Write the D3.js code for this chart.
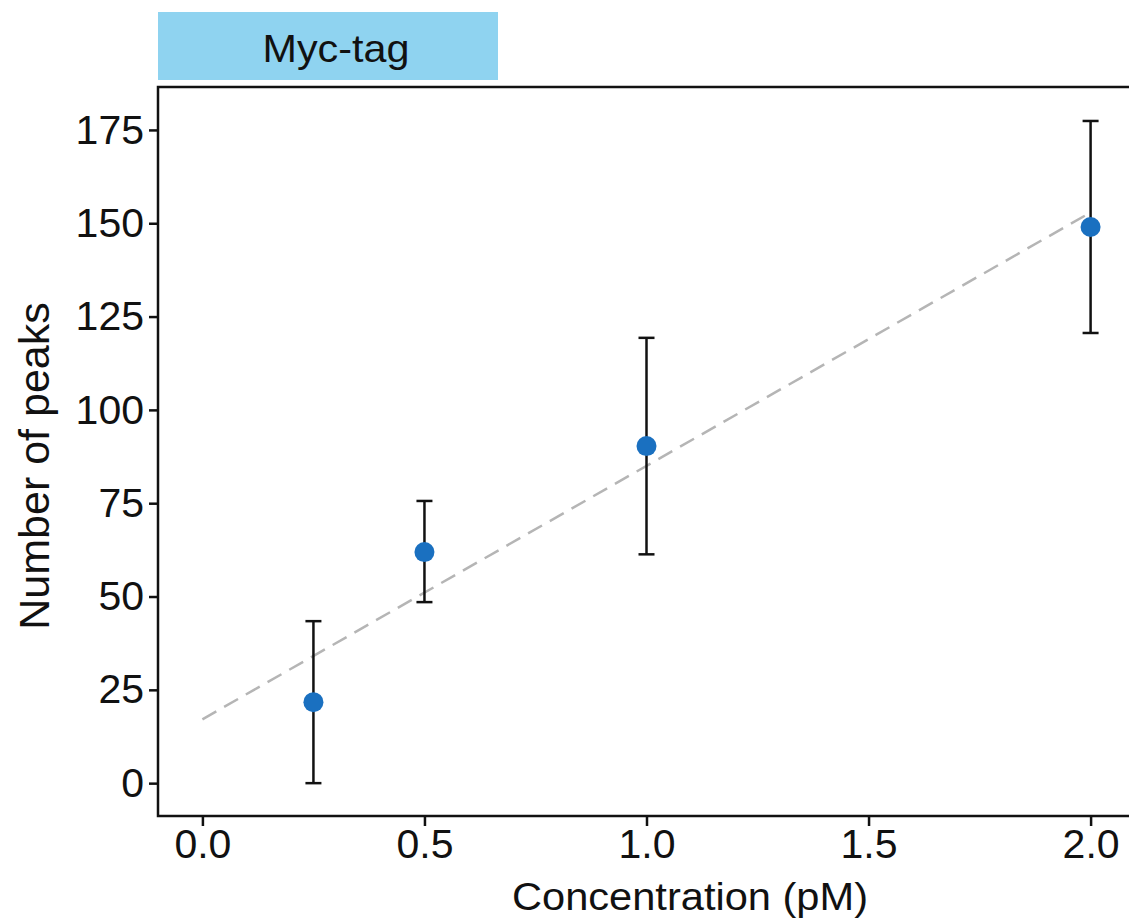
<!DOCTYPE html>
<html>
<head>
<meta charset="utf-8">
<script src="https://cdn.jsdelivr.net/npm/d3@7"></script>
<style>
  body { margin: 0; background: #fff; }
  svg { display: block; font-family: "Liberation Sans", Arial, sans-serif; }
  .axis path, .axis line { stroke: #111; stroke-width: 2.5; }
  .axis text { fill: #111; font-size: 41px; }
</style>
</head>
<body>
<div id="chart"></div>
<script>
var concentrations = [0.25, 0.5, 1.0, 2.0];
var peaks = [21.7, 61.9, 90.3, 149.0];
var errLow = [0, 48.5, 61.3, 120.6];
var errHigh = [43.4, 75.6, 119.3, 177.4];
var trendX = [0, 2.0];
var trendY = [17.1, 152.9];
var xTicks = [0, 0.5, 1.0, 1.5, 2.0];
var yTicks = [0, 25, 50, 75, 100, 125, 150, 175];

var xScale = d3.scaleLinear().domain([-0.1, 2.1]).range([158, 1135]);
var yScale = d3.scaleLinear().domain([-8.8, 186.5]).range([816, 87]);

var svg = d3.select("#chart")
    .append("svg")
    .attr("width", 1129)
    .attr("height", 923);

// label strip
svg.append("rect")
    .attr("x", 158).attr("y", 12)
    .attr("width", 340).attr("height", 68)
    .attr("fill", "#8fd3f0");
svg.append("text")
    .attr("x", 336).attr("y", 48)
    .attr("text-anchor", "middle")
    .attr("dominant-baseline", "central")
    .attr("font-size", 39)
    .attr("textLength", 147)
    .attr("lengthAdjust", "spacingAndGlyphs")
    .attr("fill", "#111")
    .text("Myc-tag");

// frame
svg.append("rect")
    .attr("x", 158).attr("y", 87)
    .attr("width", 1135 - 158).attr("height", 816 - 87)
    .attr("fill", "none")
    .attr("stroke", "#111")
    .attr("stroke-width", 2.5);

var xAxis = d3.axisBottom().scale(xScale)
    .tickValues(xTicks).tickFormat(d3.format(".1f"))
    .tickSizeInner(10).tickSizeOuter(0).tickPadding(3);
var yAxis = d3.axisLeft().scale(yScale)
    .tickValues(yTicks)
    .tickSizeInner(9).tickSizeOuter(0).tickPadding(5);

svg.append("g")
    .attr("class", "axis")
    .attr("transform", "translate(" + 0 + "," + 816 + ")")
    .call(xAxis)
    .call(g => g.select(".domain").remove());
svg.append("g")
    .attr("class", "axis")
    .attr("transform", "translate(" + 158 + "," + 0 + ")")
    .call(yAxis)
    .call(g => g.select(".domain").remove());

// fit line
svg.append("line")
    .attr("x1", xScale(trendX[0])).attr("y1", yScale(trendY[0]))
    .attr("x2", xScale(trendX[1])).attr("y2", yScale(trendY[1]))
    .attr("stroke", "#b5b5b5")
    .attr("stroke-width", 2.5)
    .attr("stroke-dasharray", "16,9");

// error bars
var bars = svg.selectAll(".err")
    .data(concentrations).enter().append("g")
    .attr("class", "err")
    .attr("stroke", "#111")
    .attr("stroke-width", 2.5);
bars.append("line")
    .attr("x1", d => xScale(d)).attr("x2", d => xScale(d))
    .attr("y1", (d, i) => yScale(errLow[i]))
    .attr("y2", (d, i) => yScale(errHigh[i]));
bars.append("line")
    .attr("x1", d => xScale(d) - 8).attr("x2", d => xScale(d) + 8)
    .attr("y1", (d, i) => yScale(errLow[i]))
    .attr("y2", (d, i) => yScale(errLow[i]));
bars.append("line")
    .attr("x1", d => xScale(d) - 8).attr("x2", d => xScale(d) + 8)
    .attr("y1", (d, i) => yScale(errHigh[i]))
    .attr("y2", (d, i) => yScale(errHigh[i]));

svg.selectAll("circle")
    .data(concentrations).enter().append("circle")
    .attr("fill", "#1a70c0")
    .attr("r", 10)
    .attr("cx", d => xScale(d))
    .attr("cy", (d, i) => yScale(peaks[i]));

// axis titles
svg.append("text")
    .attr("x", 690).attr("y", 910)
    .attr("text-anchor", "middle")
    .attr("font-size", 38)
    .attr("textLength", 356)
    .attr("lengthAdjust", "spacingAndGlyphs")
    .attr("fill", "#111")
    .text("Concentration (pM)");
svg.append("g")
    .attr("transform", "translate(" + 49 + ", " + 466 + ")")
    .append("text")
    .attr("transform", "rotate(-90)")
    .attr("text-anchor", "middle")
    .attr("font-size", 43)
    .attr("fill", "#111")
    .text("Number of peaks");
</script>
</body>
</html>
